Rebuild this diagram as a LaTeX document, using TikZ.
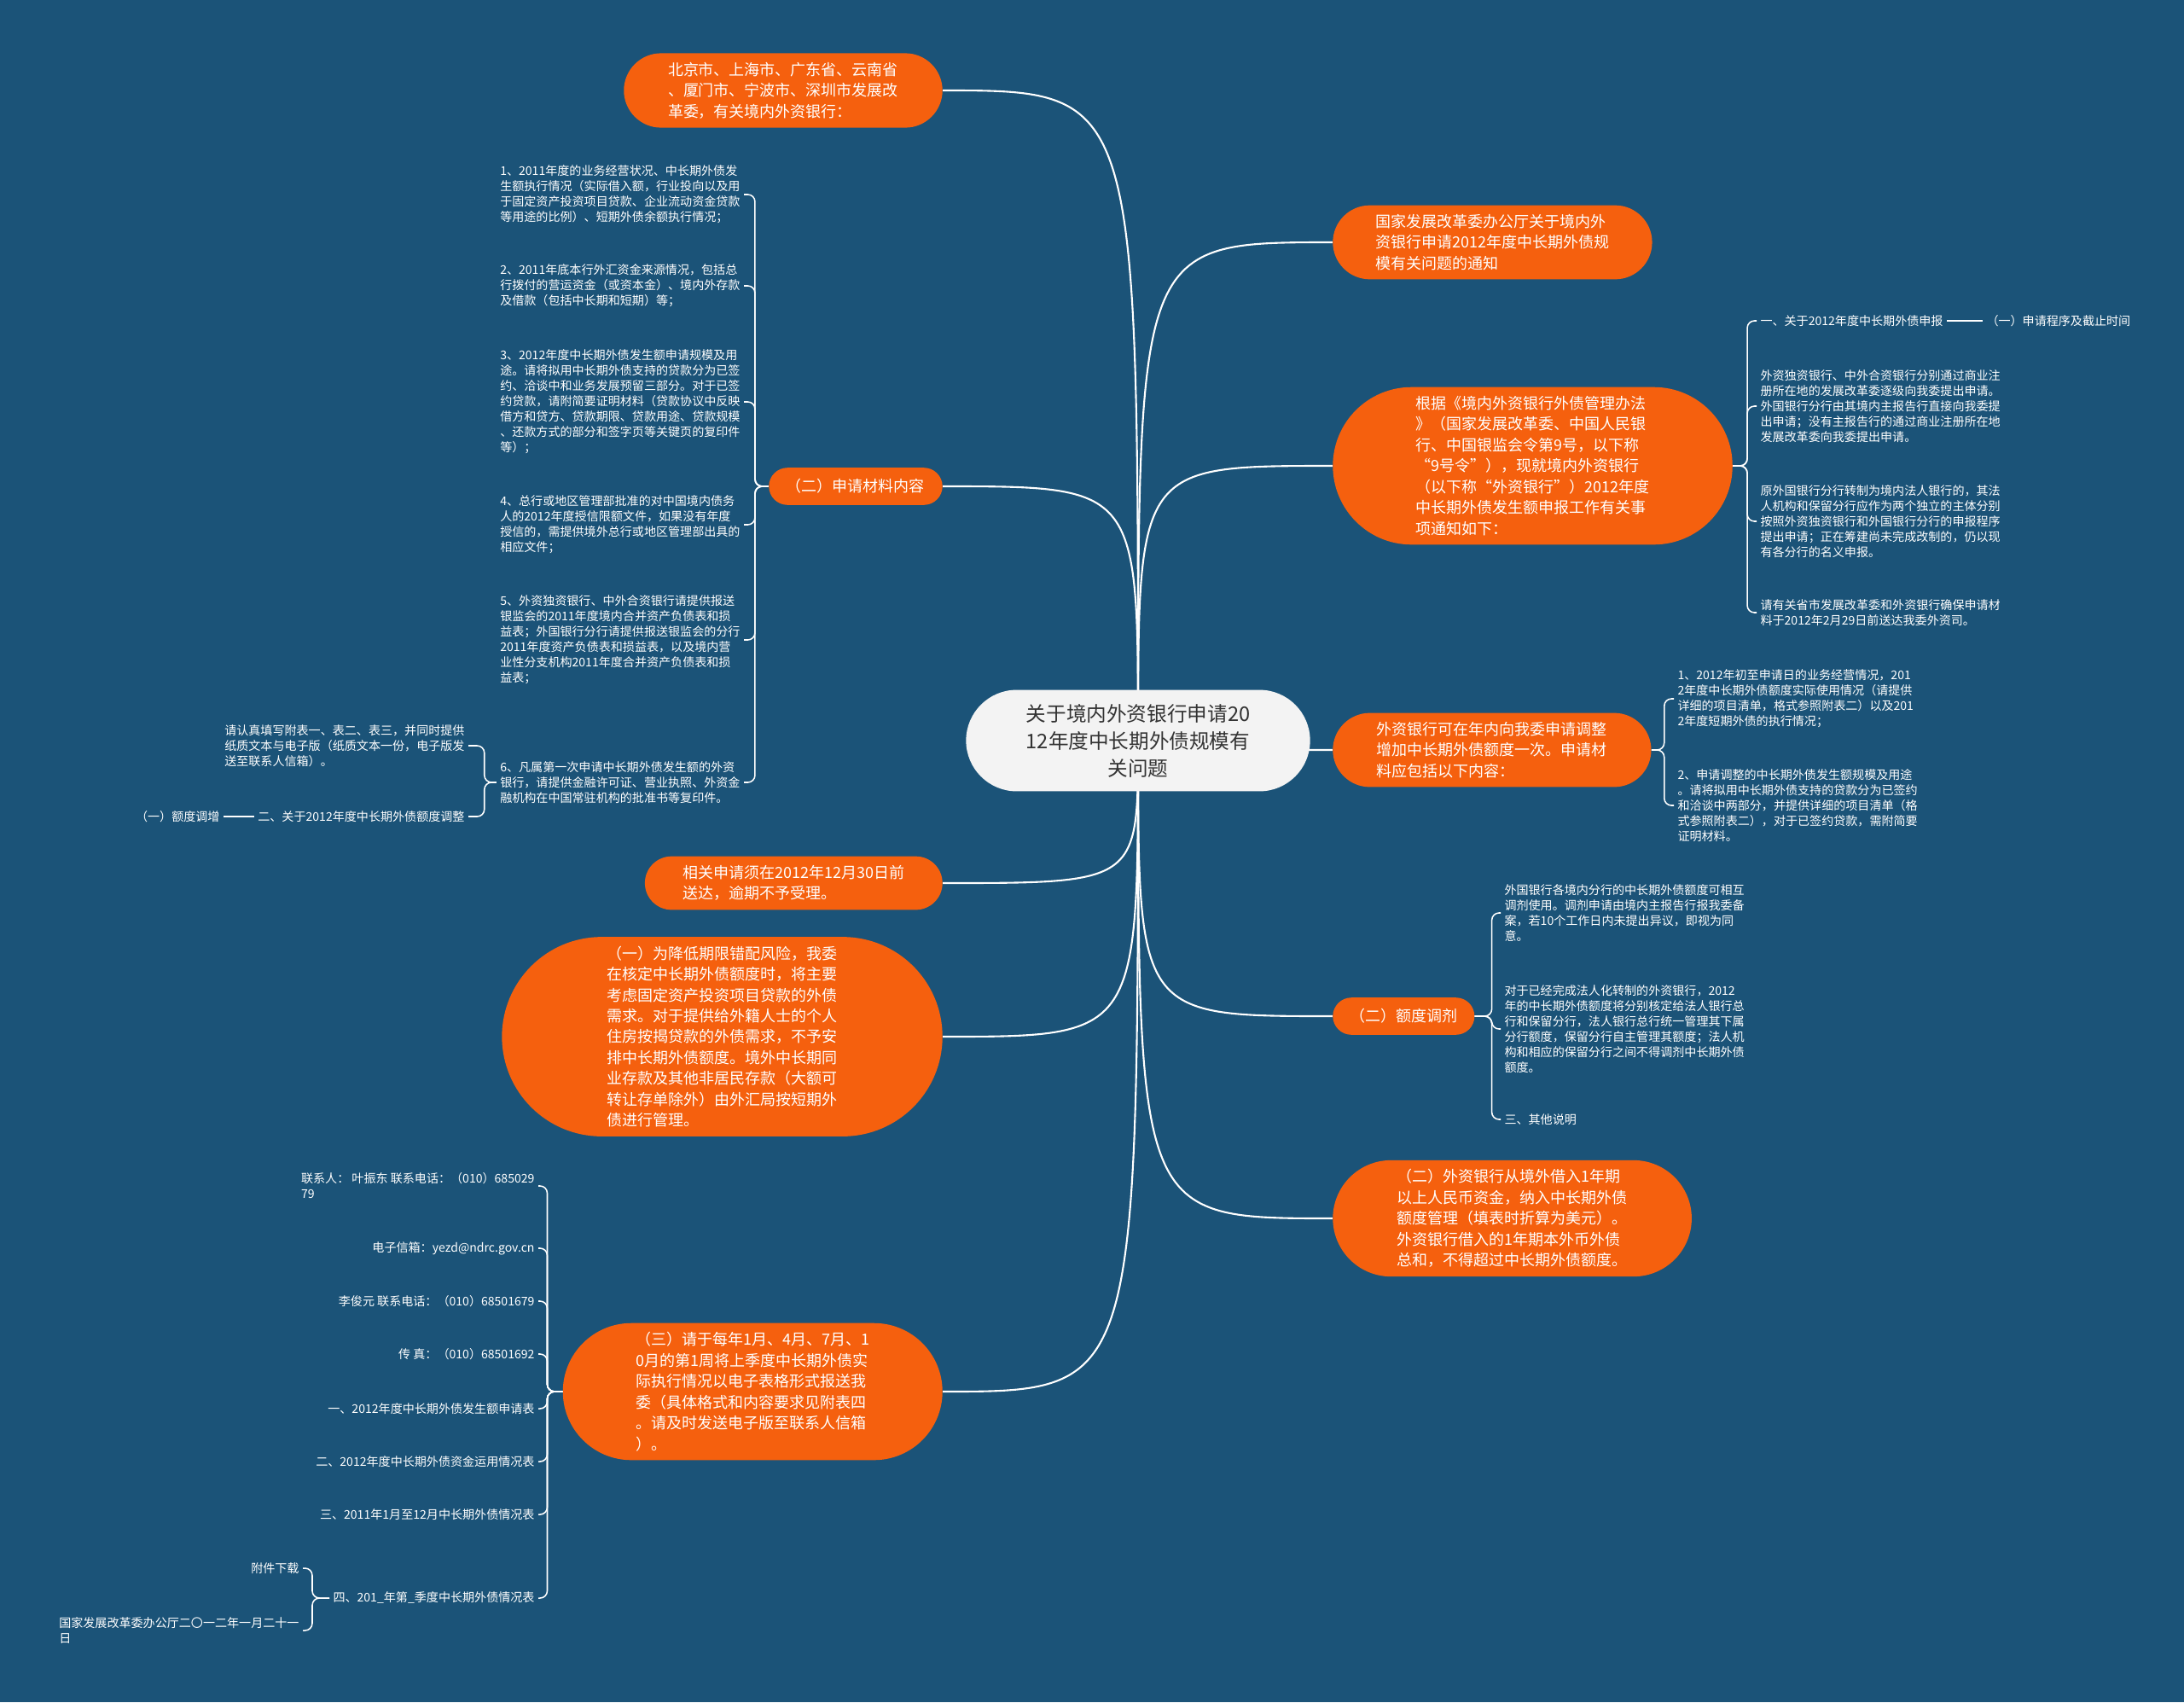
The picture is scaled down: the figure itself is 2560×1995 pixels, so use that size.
\documentclass[tikz,border=0pt]{standalone}
\usepackage{fontspec}
\setmainfont{Noto Sans CJK SC}
\usetikzlibrary{positioning, shapes.misc}
\definecolor{mapblue}{RGB}{27,83,120}
\definecolor{maporange}{RGB}{245,96,14}
\definecolor{rootgray}{RGB}{243,243,243}
\definecolor{roottext}{RGB}{51,51,51}
\pgfdeclarelayer{background}
\pgfsetlayers{background,main}

\begin{document}
\begin{tikzpicture}[x=0.025cm, y=-0.025cm,
    root/.style={rounded rectangle, fill=rootgray, text=roottext, align=center,
      font=\fontsize{16.8}{22.8}\selectfont, inner xsep=37pt, inner ysep=11.7pt},
    topic/.style={rounded rectangle, fill=maporange, text=white, align=left,
      font=\fontsize{12.8}{17.4}\selectfont, inner xsep=#1, inner ysep=7.5pt,
      minimum height=31pt},
    topic/.default=26pt,
    leaf/.style={text=white, align=left, font=\fontsize{10}{12.8}\selectfont,
      inner xsep=3pt, inner ysep=1pt},
    link/.style={draw=white, line width=1.5pt},
    brace/.style={draw=white, line width=1.1pt, rounded corners=6pt}]
  \useasboundingbox (0,0) rectangle (2560,1995);
  \begin{pgfonlayer}{background}
    \fill[mapblue] (0,0) rectangle (2560,1995);
  \end{pgfonlayer}

  % centre
  \node[root] (root) at (1334,868) {关于境内外资银行申请20\\12年度中长期外债规模有\\关问题};

  % right topics
  \node[topic=25pt, anchor=west] (notice) at (1562,284) {国家发展改革委办公厅关于境内外\\资银行申请2012年度中长期外债规\\模有关问题的通知};
  \node[topic=34pt, anchor=west] (basis) at (1562,546) {根据《境内外资银行外债管理办法\\》（国家发展改革委、中国人民银\\行、中国银监会令第9号，以下称\\“9号令”），现就境内外资银行\\（以下称“外资银行”）2012年度\\中长期外债发生额申报工作有关事\\项通知如下：};
  \node[topic=26pt, anchor=west] (adjust) at (1562,879) {外资银行可在年内向我委申请调整\\增加中长期外债额度一次。申请材\\料应包括以下内容：};
  \node[topic=13pt, anchor=west] (swap) at (1562,1191) {（二）额度调剂};
  \node[topic=31pt, anchor=west] (rmb) at (1562,1428) {（二）外资银行从境外借入1年期\\以上人民币资金，纳入中长期外债\\额度管理（填表时折算为美元）。\\外资银行借入的1年期本外币外债\\总和，不得超过中长期外债额度。};

  % left topics
  \node[topic=26pt, anchor=east] (cities) at (1105,106) {北京市、上海市、广东省、云南省\\、厦门市、宁波市、深圳市发展改\\革委，有关境内外资银行：};
  \node[topic=13.5pt, anchor=east] (material) at (1105,570) {（二）申请材料内容};
  \node[topic=26pt, anchor=east] (deadline) at (1105,1035) {相关申请须在2012年12月30日前\\送达，逾期不予受理。};
  \node[topic=39pt, anchor=east] (risk) at (1105,1215) {（一）为降低期限错配风险，我委\\在核定中长期外债额度时，将主要\\考虑固定资产投资项目贷款的外债\\需求。对于提供给外籍人士的个人\\住房按揭贷款的外债需求，不予安\\排中长期外债额度。境外中长期同\\业存款及其他非居民存款（大额可\\转让存单除外）由外汇局按短期外\\债进行管理。};
  \node[topic=32pt, anchor=east] (quarter) at (1105,1631) {（三）请于每年1月、4月、7月、1\\0月的第1周将上季度中长期外债实\\际执行情况以电子表格形式报送我\\委（具体格式和内容要求见附表四\\。请及时发送电子版至联系人信箱\\）。};

  \begin{pgfonlayer}{background}
    \draw[link] (root.center) .. controls (root.center |- cities.east) .. (cities.east);
    \draw[link] (root.center) .. controls (root.center |- material.east) .. (material.east);
    \draw[link] (root.center) .. controls (root.center |- deadline.east) .. (deadline.east);
    \draw[link] (root.center) .. controls (root.center |- risk.east) .. (risk.east);
    \draw[link] (root.center) .. controls (root.center |- quarter.east) .. (quarter.east);
    \draw[link] (root.center) .. controls (root.center |- notice.west) .. (notice.west);
    \draw[link] (root.center) .. controls (root.center |- basis.west) .. (basis.west);
    \draw[link] (root.center) .. controls (root.center |- adjust.west) .. (adjust.west);
    \draw[link] (root.center) .. controls (root.center |- swap.west) .. (swap.west);
    \draw[link] (root.center) .. controls (root.center |- rmb.west) .. (rmb.west);
  \end{pgfonlayer}

  % basis leaves
  \node[leaf, anchor=west] (basisA) at (2059,376) {一、关于2012年度中长期外债申报};
  \node[leaf, anchor=west] (basisA1) at (2324,376) {（一）申请程序及截止时间};
  \node[leaf, anchor=west] (basisB) at (2059,476) {外资独资银行、中外合资银行分别通过商业注\\册所在地的发展改革委逐级向我委提出申请。\\外国银行分行由其境内主报告行直接向我委提\\出申请；没有主报告行的通过商业注册所在地\\发展改革委向我委提出申请。};
  \node[leaf, anchor=west] (basisC) at (2059,611) {原外国银行分行转制为境内法人银行的，其法\\人机构和保留分行应作为两个独立的主体分别\\按照外资独资银行和外国银行分行的申报程序\\提出申请；正在筹建尚未完成改制的，仍以现\\有各分行的名义申报。};
  \node[leaf, anchor=west] (basisD) at (2059,718) {请有关省市发展改革委和外资银行确保申请材\\料于2012年2月29日前送达我委外资司。};
  \draw[brace] (basis.east) -- ++(17,0) |- (basisA.west);
  \draw[brace] (basis.east) -- ++(17,0) |- (basisB.west);
  \draw[brace] (basis.east) -- ++(17,0) |- (basisC.west);
  \draw[brace] (basis.east) -- ++(17,0) |- (basisD.west);
  \draw[brace] (basisA.east) -- (basisA1.west);

  % adjust leaves
  \node[leaf, anchor=west] (adjustA) at (1962,819) {1、2012年初至申请日的业务经营情况，201\\2年度中长期外债额度实际使用情况（请提供\\详细的项目清单，格式参照附表二）以及201\\2年度短期外债的执行情况；};
  \node[leaf, anchor=west] (adjustB) at (1962,944) {2、申请调整的中长期外债发生额规模及用途\\。请将拟用中长期外债支持的贷款分为已签约\\和洽谈中两部分，并提供详细的项目清单（格\\式参照附表二），对于已签约贷款，需附简要\\证明材料。};
  \draw[brace] (adjust.east) -- ++(15,0) |- (adjustA.west);
  \draw[brace] (adjust.east) -- ++(15,0) |- (adjustB.west);

  % swap leaves
  \node[leaf, anchor=west] (swapA) at (1759,1070) {外国银行各境内分行的中长期外债额度可相互\\调剂使用。调剂申请由境内主报告行报我委备\\案，若10个工作日内未提出异议，即视为同\\意。};
  \node[leaf, anchor=west] (swapB) at (1759,1206) {对于已经完成法人化转制的外资银行，2012\\年的中长期外债额度将分别核定给法人银行总\\行和保留分行，法人银行总行统一管理其下属\\分行额度，保留分行自主管理其额度；法人机\\构和相应的保留分行之间不得调剂中长期外债\\额度。};
  \node[leaf, anchor=west] (swapC) at (1759,1312) {三、其他说明};
  \draw[brace] (swap.east) -- ++(20,0) |- (swapA.west);
  \draw[brace] (swap.east) -- ++(20,0) |- (swapB.west);
  \draw[brace] (swap.east) -- ++(20,0) |- (swapC.west);

  % material leaves
  \node[leaf, anchor=east] (matA) at (872,228) {1、2011年度的业务经营状况、中长期外债发\\生额执行情况（实际借入额，行业投向以及用\\于固定资产投资项目贷款、企业流动资金贷款\\等用途的比例）、短期外债余额执行情况；};
  \node[leaf, anchor=east] (matB) at (872,335) {2、2011年底本行外汇资金来源情况，包括总\\行拨付的营运资金（或资本金）、境内外存款\\及借款（包括中长期和短期）等；};
  \node[leaf, anchor=east] (matC) at (872,471) {3、2012年度中长期外债发生额申请规模及用\\途。请将拟用中长期外债支持的贷款分为已签\\约、洽谈中和业务发展预留三部分。对于已签\\约贷款，请附简要证明材料（贷款协议中反映\\借方和贷方、贷款期限、贷款用途、贷款规模\\、还款方式的部分和签字页等关键页的复印件\\等）；};
  \node[leaf, anchor=east] (matD) at (872,615) {4、总行或地区管理部批准的对中国境内债务\\人的2012年度授信限额文件，如果没有年度\\授信的，需提供境外总行或地区管理部出具的\\相应文件；};
  \node[leaf, anchor=east] (matE) at (872,750) {5、外资独资银行、中外合资银行请提供报送\\银监会的2011年度境内合并资产负债表和损\\益表；外国银行分行请提供报送银监会的分行\\2011年度资产负债表和损益表，以及境内营\\业性分支机构2011年度合并资产负债表和损\\益表；};
  \node[leaf, anchor=east] (matF) at (872,917) {6、凡属第一次申请中长期外债发生额的外资\\银行，请提供金融许可证、营业执照、外资金\\融机构在中国常驻机构的批准书等复印件。};
  \draw[brace] (material.west) -- ++(-16,0) |- (matA.east);
  \draw[brace] (material.west) -- ++(-16,0) |- (matB.east);
  \draw[brace] (material.west) -- ++(-16,0) |- (matC.east);
  \draw[brace] (material.west) -- ++(-16,0) |- (matD.east);
  \draw[brace] (material.west) -- ++(-16,0) |- (matE.east);
  \draw[brace] (material.west) -- ++(-16,0) |- (matF.east);

  \node[leaf, anchor=east] (fillIn) at (549,874) {请认真填写附表一、表二、表三，并同时提供\\纸质文本与电子版（纸质文本一份，电子版发\\送至联系人信箱）。};
  \node[leaf, anchor=east] (quota) at (549,957) {二、关于2012年度中长期外债额度调整};
  \node[leaf, anchor=east] (quotaUp) at (262,957) {（一）额度调增};
  \draw[brace] (matF.west) -- ++(-14,0) |- (fillIn.east);
  \draw[brace] (matF.west) -- ++(-14,0) |- (quota.east);
  \draw[brace] (quota.west) -- (quotaUp.east);

  % quarter leaves
  \node[leaf, anchor=east] (contA) at (631,1390) {联系人： 叶振东 联系电话：（010）685029\\79};
  \node[leaf, anchor=east] (contB) at (631,1463) {电子信箱：yezd@ndrc.gov.cn};
  \node[leaf, anchor=east] (contC) at (631,1525) {李俊元 联系电话：（010）68501679};
  \node[leaf, anchor=east] (contD) at (631,1587) {传 真：（010）68501692};
  \node[leaf, anchor=east] (formA) at (631,1651) {一、2012年度中长期外债发生额申请表};
  \node[leaf, anchor=east] (formB) at (631,1713) {二、2012年度中长期外债资金运用情况表};
  \node[leaf, anchor=east] (formC) at (631,1775) {三、2011年1月至12月中长期外债情况表};
  \node[leaf, anchor=east] (formD) at (631,1873) {四、201\_年第\_季度中长期外债情况表};
  \draw[brace] (quarter.west) -- ++(-18,0) |- (contA.east);
  \draw[brace] (quarter.west) -- ++(-18,0) |- (contB.east);
  \draw[brace] (quarter.west) -- ++(-18,0) |- (contC.east);
  \draw[brace] (quarter.west) -- ++(-18,0) |- (contD.east);
  \draw[brace] (quarter.west) -- ++(-18,0) |- (formA.east);
  \draw[brace] (quarter.west) -- ++(-18,0) |- (formB.east);
  \draw[brace] (quarter.west) -- ++(-18,0) |- (formC.east);
  \draw[brace] (quarter.west) -- ++(-18,0) |- (formD.east);

  \node[leaf, anchor=east] (download) at (355,1838) {附件下载};
  \node[leaf, anchor=east] (issuer) at (355,1911) {国家发展改革委办公厅二〇一二年一月二十一\\日};
  \draw[brace] (formD.west) -- ++(-20,0) |- (download.east);
  \draw[brace] (formD.west) -- ++(-20,0) |- (issuer.east);
\end{tikzpicture}
\end{document}
